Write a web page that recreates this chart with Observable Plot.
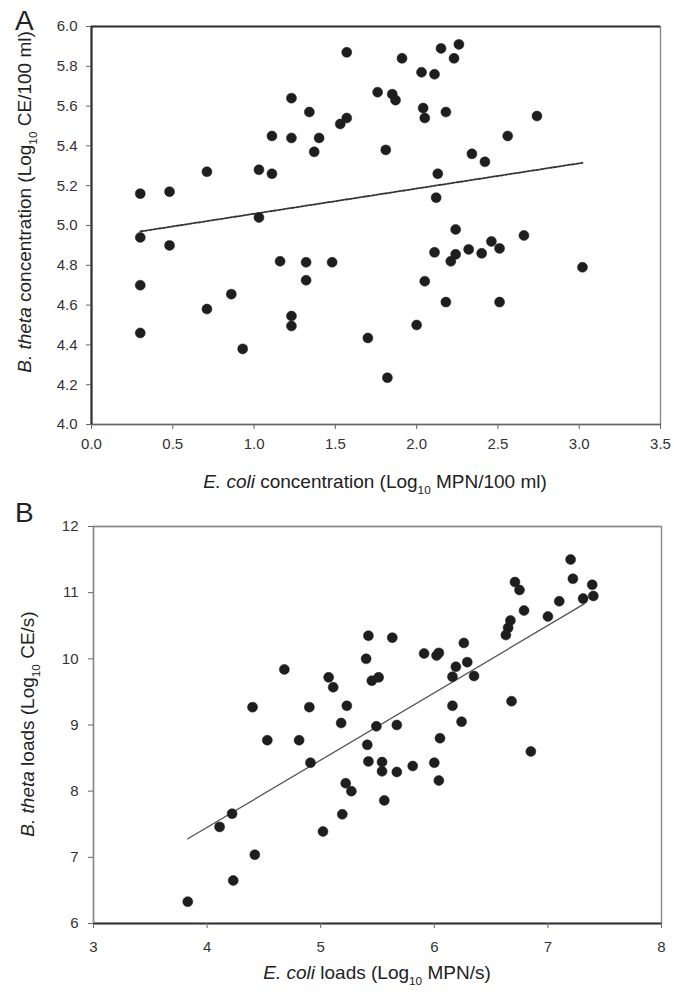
<!DOCTYPE html>
<html>
<head>
<meta charset="utf-8">
<script src="https://cdn.jsdelivr.net/npm/d3@7"></script>
<script src="https://cdn.jsdelivr.net/npm/@observablehq/plot@0.6"></script>
<style>
  html, body { margin: 0; padding: 0; background: #fff; }
  #wrap { position: relative; width: 674px; height: 997px; font-family: "Liberation Sans", Arial, sans-serif; }
  .panel { position: absolute; left: 0; }
</style>
</head>
<body>
<div id="wrap">
  <div id="pa" class="panel" style="top:0px"></div>
  <div id="pb" class="panel" style="top:495px"></div>
</div>
<script>
// ---- Panel A: concentrations ----
const aEcoli = [0.30,0.48,0.71,1.03,1.11,1.03,1.11,1.23,1.23,1.34,1.37,1.40,1.53,1.57,1.57,1.76,1.85,1.87,1.81,1.91,
  2.03,2.11,2.04,2.05,2.15,2.23,2.26,2.18,2.13,2.12,2.34,2.42,2.56,2.74,2.24,2.66,0.30,0.48,0.30,0.30,
  0.71,0.86,0.93,1.16,1.32,1.32,1.23,1.23,1.48,1.70,1.82,2.00,2.05,2.11,2.18,2.21,2.24,2.32,2.40,2.46,
  2.51,2.51,3.02];
const aBtheta = [5.16,5.17,5.27,5.28,5.26,5.04,5.45,5.64,5.44,5.57,5.37,5.44,5.51,5.54,5.87,5.67,5.66,5.63,5.38,5.84,
  5.77,5.76,5.59,5.54,5.89,5.84,5.91,5.57,5.26,5.14,5.36,5.32,5.45,5.55,4.98,4.95,4.94,4.90,4.70,4.46,
  4.58,4.655,4.38,4.82,4.815,4.725,4.545,4.495,4.815,4.435,4.235,4.50,4.72,4.865,4.615,4.82,4.855,4.88,4.86,4.92,
  4.885,4.615,4.79];
const aTrendX = [0.30, 3.02];
const aTrendY = [4.97, 5.315];
const aXTicks = [0,0.5,1,1.5,2,2.5,3,3.5];
const aYTicks = [4.0,4.2,4.4,4.6,4.8,5.0,5.2,5.4,5.6,5.8,6.0];

// ---- Panel B: loads ----
const bEcoli = [7.20,7.22,6.71,6.75,6.79,7.10,7.00,7.31,7.39,7.40,6.67,6.65,6.63,5.42,5.63,5.40,5.91,6.02,6.04,6.26,
  6.29,6.19,6.16,6.35,4.68,5.07,5.11,5.45,5.51,4.40,4.90,5.23,6.16,6.68,5.18,5.49,5.67,6.24,4.53,4.81,
  5.41,6.05,6.85,4.91,5.42,5.54,5.54,5.67,5.81,6.00,6.04,5.22,5.27,5.56,5.19,5.02,4.22,4.11,4.42,4.23,3.83];
const bBtheta = [11.50,11.21,11.16,11.04,10.73,10.87,10.64,10.91,11.12,10.95,10.58,10.47,10.36,10.35,10.32,10.00,10.08,10.05,10.09,10.24,
  9.95,9.88,9.73,9.74,9.84,9.72,9.57,9.67,9.72,9.27,9.27,9.29,9.29,9.36,9.03,8.98,9.00,9.05,8.77,8.77,
  8.70,8.80,8.60,8.43,8.45,8.44,8.30,8.29,8.38,8.43,8.16,8.12,8.00,7.86,7.65,7.39,7.66,7.46,7.04,6.65,6.33];
const bTrendX = [3.83, 7.32];
const bTrendY = [7.28, 10.83];
const bXTicks = [3,4,5,6,7,8];
const bYTicks = [6,7,8,9,10,11,12];

const FONT = '"Liberation Sans", Arial, sans-serif';

function rows(xs, ys) { return xs.map((x, i) => ({x, y: ys[i]})); }

function makePanel(o) {
  const pts = rows(o.xs, o.ys);
  const trend = rows(o.tx, o.ty);
  const [x0, x1] = o.xDomain, [y0, y1] = o.yDomain;
  return Plot.plot({
    width: 674,
    height: o.height,
    marginLeft: o.ml, marginRight: o.mr, marginTop: o.mt, marginBottom: o.mb,
    style: {fontFamily: FONT, fontSize: "15px", color: "#333", background: "transparent", overflow: "visible"},
    x: {domain: o.xDomain, ticks: o.xTicks, label: null},
    y: {domain: o.yDomain, ticks: o.yTicks, label: null},
    marks: [
      Plot.frame({stroke: "#8a8a8a", strokeWidth: 1.4}),
      Plot.ruleY([y1], {stroke: o.topStroke, strokeWidth: o.topWidth}),
      Plot.ruleY([y0], {stroke: o.bottomStroke, strokeWidth: o.bottomWidth}),
      Plot.ruleX([x0], {stroke: o.leftStroke, strokeWidth: o.leftWidth}),
      Plot.axisX({ticks: o.xTicks, tickFormat: o.xFmt, tickSize: 5, tickPadding: o.xPad, stroke: "#666", label: null, fontSize: 15}),
      Plot.axisY({ticks: o.yTicks, tickFormat: o.yFmt, tickSize: 5, tickPadding: o.yPad, stroke: "#666", label: null, fontSize: 15}),
      Plot.line(trend, {x: "x", y: "y", stroke: o.trendColor, strokeWidth: o.trendWidth, strokeDasharray: o.dash}),
      Plot.dot(pts, {x: "x", y: "y", r: 5, fill: "#1e1e1e", stroke: "#1e1e1e", strokeWidth: 0.5})
    ]
  });
}

function richText(svg, x, y, rotate, parts, size, anchor = "middle") {
  const t = d3.select(svg).append("text")
    .attr("text-anchor", anchor)
    .attr("font-family", FONT)
    .attr("font-size", size)
    .attr("fill", "#222")
    .attr("transform", `translate(${x},${y})` + (rotate ? " rotate(-90)" : ""));
  for (const p of parts) {
    const s = t.append("tspan").text(p.t);
    if (p.i) s.attr("font-style", "italic");
    if (p.sub) s.attr("font-size", size * 0.62).attr("dy", size * 0.3);
    if (p.up) s.attr("dy", -size * 0.3);
  }
  return t;
}

const A = makePanel({
  xs: aEcoli, ys: aBtheta, tx: aTrendX, ty: aTrendY,
  xDomain: [0, 3.5], yDomain: [4, 6], xTicks: aXTicks, yTicks: aYTicks,
  xFmt: d3.format(".1f"), yFmt: d3.format(".1f"),
  height: 495, ml: 91, mr: 14, mt: 26, mb: 71, xPad: 9, yPad: 9,
  topStroke: "#333", topWidth: 1.8, bottomStroke: "#666", bottomWidth: 1.5, leftStroke: "#333", leftWidth: 2.2,
  trendColor: "#333", trendWidth: 1.8, dash: "3,1.5"
});
document.getElementById("pa").appendChild(A);
richText(A, 15, 30, false, [{t: "A"}], 28, "start");
richText(A, 31, 202, true, [
  {t: "B. theta", i: true}, {t: " concentration (Log"}, {t: "10", sub: true}, {t: " CE/100 ml)", up: true}
], 19);
richText(A, 375, 488, false, [
  {t: "E. coli", i: true}, {t: " concentration (Log"}, {t: "10", sub: true}, {t: " MPN/100 ml)", up: true}
], 19);

const B = makePanel({
  xs: bEcoli, ys: bBtheta, tx: bTrendX, ty: bTrendY,
  xDomain: [3, 8], yDomain: [6, 12], xTicks: bXTicks, yTicks: bYTicks,
  xFmt: d3.format("d"), yFmt: d3.format("d"),
  height: 502, ml: 93, mr: 13, mt: 31, mb: 74, xPad: 13, yPad: 10,
  topStroke: "#8a8a8a", topWidth: 1.4, bottomStroke: "#333", bottomWidth: 2, leftStroke: "#8a8a8a", leftWidth: 1.4,
  trendColor: "#555", trendWidth: 1.3, dash: null
});
document.getElementById("pb").appendChild(B);
richText(B, 15, 27, false, [{t: "B"}], 28, "start");
richText(B, 34, 229, true, [
  {t: "B. theta", i: true}, {t: " loads (Log"}, {t: "10", sub: true}, {t: " CE/s)", up: true}
], 19);
richText(B, 377, 484, false, [
  {t: "E. coli", i: true}, {t: " loads (Log"}, {t: "10", sub: true}, {t: " MPN/s)", up: true}
], 19);
</script>
</body>
</html>
